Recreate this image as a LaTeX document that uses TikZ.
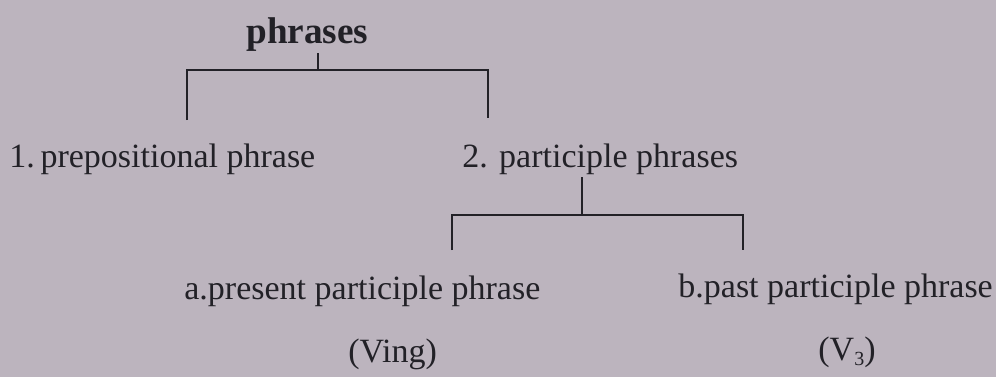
\documentclass[tikz,border=0pt]{standalone}
\usepackage{fontspec}
\setmainfont{Liberation Serif}
\usetikzlibrary{positioning}
\definecolor{paper}{HTML}{BCB4BE}
\definecolor{ink}{HTML}{222127}

\begin{document}
\begin{tikzpicture}[x=0.5pt,y=-0.5pt,
  every node/.style={font=\fontsize{17}{20}\selectfont,text=ink,inner sep=0pt},
  label/.style={anchor=base west},
  branch/.style={ink,line width=1.3pt}]
\fill[paper] (0,0) rectangle (996,377);
\node[label,font=\fontsize{18.6}{22}\selectfont\bfseries] (root) at (246,43) {phrases};
\node[label] (prep) at (9,167) {1.\,prepositional phrase};
\node[label] (part) at (462,167) {2. participle phrases};
\node[label] (pres) at (184,299) {a.present participle phrase};
\node[label] (past) at (678,297) {b.past participle phrase};
\node[label] (ving) at (348,362) {(Ving)};
\node[label] (vthree) at (818,360) {(V\raisebox{-0.35ex}{\fontsize{10}{12}\selectfont 3})};
% top bracket
\coordinate (r1) at (318,53);
\coordinate (r2) at (318,70);
\coordinate (rl) at (187,70);
\coordinate (rr) at (488,70);
\coordinate (rlend) at (187,120);
\coordinate (rrend) at (488,118);
\draw[branch] (r1)--(r2);
\draw[branch] (rlend)--(rl)--(rr)--(rrend);
% lower bracket
\coordinate (p1) at (582,177);
\coordinate (p2) at (582,215);
\coordinate (pl) at (452,215);
\coordinate (pr) at (743,215);
\coordinate (plend) at (452,250);
\coordinate (prend) at (743,250);
\draw[branch] (p1)--(p2);
\draw[branch] (plend)--(pl)--(pr)--(prend);
\end{tikzpicture}
\end{document}
